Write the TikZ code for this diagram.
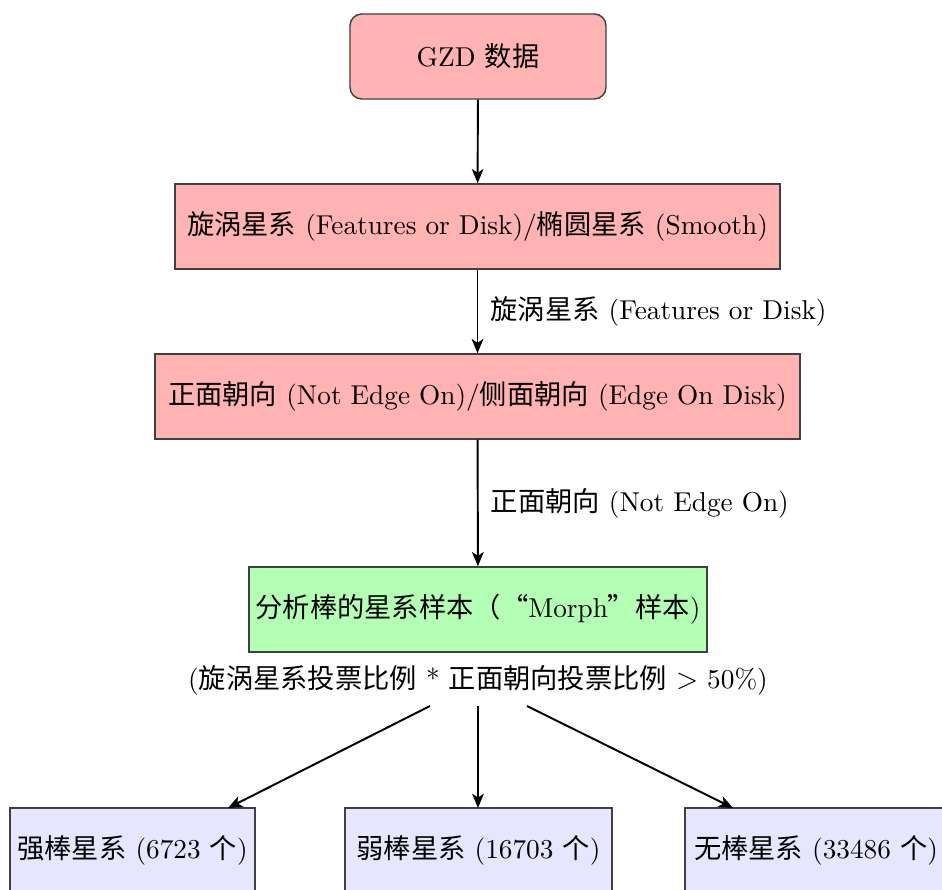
\documentclass[tikz,border=0pt]{standalone}
\usepackage{fontspec}
\newfontfamily\cjk{Noto Sans CJK SC}
\usetikzlibrary{arrows.meta}
\definecolor{boxred}{HTML}{FFB3B3}
\definecolor{boxgreen}{HTML}{B3FFB3}
\definecolor{boxblue}{HTML}{E6E6FF}
\tikzset{
  box/.style={draw=black!75, line width=0.55pt, inner sep=0pt, minimum height=85*0.385pt, align=center, font=\fontsize{10.5}{12}\selectfont},
  redbox/.style={box, fill=boxred},
  greenbox/.style={box, fill=boxgreen},
  bluebox/.style={box, fill=boxblue},
  arr/.style={-{Stealth[length=5.5pt,width=4.5pt,inset=1.5pt]}, line width=0.75pt, black},
  lbl/.style={font=\fontsize{10.5}{12}\selectfont, inner sep=0pt}
}
\begin{document}
\begin{tikzpicture}[x=0.385pt,y=-0.385pt]
\useasboundingbox (0,0) rectangle (942,890);
\node[redbox, rounded corners=4.5pt, minimum width=256*0.385pt] (gzd) at (478,56.5) {GZD {\cjk 数据}};
\node[redbox, minimum width=605*0.385pt] (sp) at (477.5,226.5) {{\cjk 旋涡星系} (Features or Disk)/{\cjk 椭圆星系} (Smooth)};
\node[redbox, minimum width=645*0.385pt] (eo) at (477.5,396.5) {{\cjk 正面朝向} (Not Edge On)/{\cjk 侧面朝向} (Edge On Disk)};
\node[greenbox, minimum width=458*0.385pt] (mo) at (478,609.5) {{\cjk 分析棒的星系样本（“}Morph{\cjk ”样本})};
\node[lbl] (cond) at (478,680) {({\cjk 旋涡星系投票比例} * {\cjk 正面朝向投票比例} $>$ 50\%)};
\node[bluebox, minimum width=245*0.385pt] (L) at (132.5,850.5) {{\cjk 强棒星系} (6723 {\cjk 个})};
\node[bluebox, minimum width=267*0.385pt] (M) at (478.5,850.5) {{\cjk 弱棒星系} (16703 {\cjk 个})};
\node[bluebox, minimum width=262*0.385pt] (R) at (816,850.5) {{\cjk 无棒星系} (33486 {\cjk 个})};
\coordinate (c1) at (430,706);
\coordinate (c2) at (478,706);
\coordinate (c3) at (527,706);
\coordinate (t1) at (228,808);
\coordinate (t2) at (478,808);
\coordinate (t3) at (733,808);
\draw[arr] (gzd) -- (sp);
\draw[arr] (sp) -- node[lbl, right=12*0.385pt] (l1) {{\cjk 旋涡星系} (Features or Disk)} (eo);
\draw[arr] (eo) -- node[lbl, right=12*0.385pt] (l2) {{\cjk 正面朝向} (Not Edge On)} (mo);
\draw[arr] (c1) -- (t1);
\draw[arr] (c2) -- (t2);
\draw[arr] (c3) -- (t3);
\end{tikzpicture}
\end{document}
